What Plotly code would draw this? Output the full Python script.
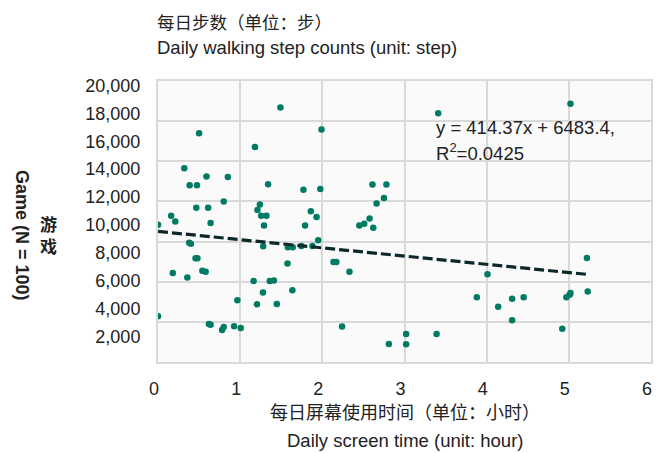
import plotly.graph_objects as go

# Daily screen time (hours) vs. daily step counts, gaming group
screen_hours = [
    1.49, 0.50, 1.99, 1.18, 0.32, 0.59, 0.85, 0.385, 0.474, 1.34,
    1.77, 1.975, 0.80, 0.466, 0.611, 1.24, 1.21, 1.256, 1.32, 0.16,
    0.21, 0.64, 0.0, 1.29, 1.79, 1.86, 1.93, 1.95, 0.38, 0.40,
    1.28, 1.58, 1.64, 1.745, 1.88, 1.576, 0.457, 0.48, 0.18, 0.54,
    0.58, 0.357, 1.164, 1.36, 1.41, 1.636, 1.277, 0.966, 1.204, 1.446,
    0.0, 0.62, 0.64, 0.80, 0.78, 0.926, 1.007, 3.41, 2.61, 2.78,
    2.75, 2.66, 2.45, 2.51, 2.575, 2.62, 2.136, 2.17, 2.33, 4.01,
    3.88, 4.14, 2.24, 2.81, 3.02, 3.02, 3.39, 5.02, 5.22, 5.23,
    4.31, 4.45, 4.31, 4.97, 5.02, 5.01, 4.92,
]
daily_steps = [
    18420, 16580, 16850, 15580, 14070, 13480, 13430, 12850, 12850, 12920,
    12520, 12570, 11680, 11230, 11230, 11470, 11060, 10660, 10660, 10660,
    10250, 10130, 10010, 9960, 9960, 10970, 10560, 8900, 8720, 8650,
    8460, 8400, 8400, 8480, 8480, 7220, 7600, 7600, 6540, 6710,
    6640, 6230, 5970, 5970, 6000, 5300, 5140, 4600, 4300, 4320,
    3440, 2880, 2840, 2670, 2450, 2720, 2600, 18010, 12900, 12900,
    11920, 11540, 9960, 10080, 10460, 9800, 7330, 7330, 6640, 6450,
    4800, 4130, 2700, 1450, 2170, 1430, 2170, 18690, 7620, 5210,
    4700, 4800, 3150, 4800, 5110, 4990, 2550,
]

# Fitted trend line end points
trend_x = [0.0, 5.25]
trend_y = [9530, 6430]

x_ticks = [0, 1, 2, 3, 4, 5, 6]
y_ticks = [2000, 4000, 6000, 8000, 10000, 12000, 14000, 16000, 18000, 20000]
y_tick_text = ["2,000", "4,000", "6,000", "8,000", "10,000", "12,000",
               "14,000", "16,000", "18,000", "20,000"]
grid_rows = list(range(8))

FONT = "Liberation Sans, Arial, Noto Sans CJK SC, sans-serif"
TEXT = "#222222"
GRID = "#d9d9d9"

fig = go.Figure()

fig.add_trace(go.Scatter(
    x=screen_hours, y=daily_steps, mode="markers",
    marker=dict(color="#007b63", size=6.5, line=dict(width=0)),
    showlegend=False, hoverinfo="x+y",
))

fig.add_trace(go.Scatter(
    x=trend_x, y=trend_y, mode="lines",
    line=dict(color="#0c2828", width=3.2, dash="10px,4px"),
    showlegend=False, hoverinfo="skip",
))

# empty trace that carries the horizontal grid axis
fig.add_trace(go.Scatter(x=[], y=[], yaxis="y2", showlegend=False,
                         hoverinfo="skip"))

fig.update_layout(
    width=665, height=453,
    margin=dict(l=157.5, r=11.7, t=80.5, b=91.3),
    paper_bgcolor="white",
    plot_bgcolor="#fafafa",
    font=dict(family=FONT, color=TEXT, size=18),
    xaxis=dict(
        range=[0, 6], tickvals=x_ticks, ticktext=[str(v) for v in x_ticks],
        showgrid=True, gridcolor=GRID, gridwidth=2,
        zeroline=False, showline=True, linecolor=GRID, linewidth=2,
        mirror=True, ticks="", ticklabelstandoff=9, ticklabelshift=-4,
        tickfont=dict(size=18, color=TEXT),
    ),
    yaxis=dict(
        range=[160, 20324], tickvals=y_ticks, ticktext=y_tick_text,
        showgrid=False, zeroline=False, showline=True, linecolor=GRID,
        linewidth=2, mirror=True, ticks="", ticklabelstandoff=12,
        tickfont=dict(size=18, color=TEXT),
    ),
    yaxis2=dict(
        overlaying="y", range=[0, 7], tickvals=grid_rows,
        showgrid=True, gridcolor=GRID, gridwidth=2,
        showticklabels=False, zeroline=False, ticks="",
    ),
)

annotations = [
    dict(text="每日步数（单位：步）", x=-0.006, y=1.208, font=dict(size=17.5),
         xanchor="left", yanchor="middle"),
    dict(text="Daily walking step counts (unit: step)", x=-0.006, y=1.119,
         font=dict(size=18.5), xanchor="left", yanchor="middle"),
    dict(text="每日屏幕使用时间（单位：小时）", x=0.5, y=-0.182,
         font=dict(size=18), xanchor="center", yanchor="middle"),
    dict(text="Daily screen time (unit: hour)", x=0.5, y=-0.278,
         font=dict(size=18.5), xanchor="center", yanchor="middle"),
    dict(text="<b>游<br>戏</b>", x=-0.2215, y=0.450, font=dict(size=17),
         xanchor="center", yanchor="middle"),
    dict(text="<b>Game (N = 100)</b>", x=-0.276, y=0.449, textangle=90,
         font=dict(size=18), xanchor="center", yanchor="middle"),
    dict(text="y = 414.37x + 6483.4,", x=0.560, y=0.836,
         font=dict(size=18.5), xanchor="left", yanchor="middle"),
    dict(text="R<sup>2</sup>=0.0425", x=0.560, y=0.748, font=dict(size=18.5),
         xanchor="left", yanchor="middle"),
]
for a in annotations:
    a.update(xref="paper", yref="paper", showarrow=False)
fig.update_layout(annotations=annotations)

fig.write_html("out.html")
